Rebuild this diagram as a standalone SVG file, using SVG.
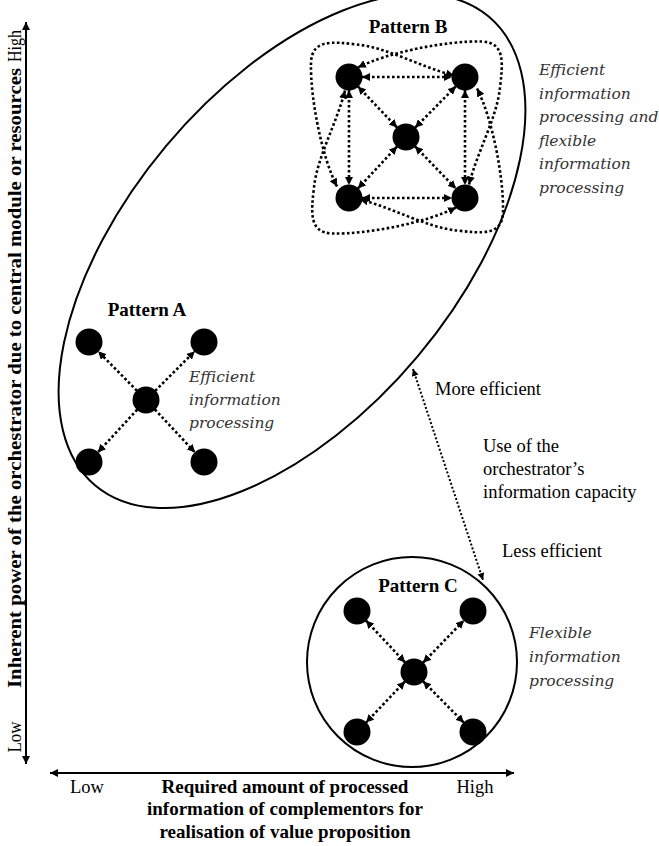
<svg xmlns="http://www.w3.org/2000/svg" width="659" height="846" viewBox="0 0 659 846">
  <style>
    .bg { fill: #fff; }
    .node { fill: #000; }
    .dot { fill: none; stroke: #000; stroke-width: 2.6; stroke-dasharray: 2.6 2.4; }
    .dot-thin { fill: none; stroke: #000; stroke-width: 2; stroke-dasharray: 2 2; }
    .solid { fill: none; stroke: #000; stroke-width: 2; }
    .axis { fill: none; stroke: #000; stroke-width: 2; }
    .title { font-family: "Liberation Serif", "Times New Roman", serif; font-weight: bold; font-size: 19px; fill: #000; }
    .reg { font-family: "Liberation Serif", "Times New Roman", serif; font-size: 18.5px; fill: #000; }
    .ital { font-family: "DejaVu Serif", "Liberation Serif", serif; font-style: italic; font-size: 15.5px; fill: #333; }
  </style>
  <defs>
    <marker id="ah" viewBox="0 0 10 10" refX="10" refY="5" markerWidth="8" markerHeight="8" markerUnits="userSpaceOnUse" orient="auto-start-reverse">
      <path d="M0,0 L10,5 L0,10 z" fill="#000"/>
    </marker>
    <marker id="ahs" viewBox="0 0 10 10" refX="10" refY="5" markerWidth="7" markerHeight="7" markerUnits="userSpaceOnUse" orient="auto-start-reverse">
      <path d="M0,0 L10,5 L0,10 z" fill="#000"/>
    </marker>
    <marker id="axh" viewBox="0 0 10 10" refX="10" refY="5" markerWidth="10" markerHeight="8" markerUnits="userSpaceOnUse" orient="auto-start-reverse">
      <path d="M0,0 L10,5 L0,10 z" fill="#000"/>
    </marker>
  </defs>

  <rect class="bg" x="0" y="0" width="659" height="846"/>

  <!-- axes -->
  <g id="axes">
    <line class="axis" x1="26" y1="764" x2="26" y2="22" marker-start="url(#axh)" marker-end="url(#axh)"/>
    <line class="axis" x1="50" y1="773" x2="514" y2="773" marker-start="url(#axh)" marker-end="url(#axh)"/>
    <text class="reg" transform="translate(21,46) rotate(-90)" text-anchor="middle" textLength="32" lengthAdjust="spacingAndGlyphs">High</text>
    <text class="reg" transform="translate(21,737) rotate(-90)" text-anchor="middle" textLength="31" lengthAdjust="spacingAndGlyphs">Low</text>
    <text class="title" transform="translate(21,378) rotate(-90)" text-anchor="middle" textLength="620" lengthAdjust="spacingAndGlyphs">Inherent power of the orchestrator due to central module or resources</text>
    <text class="reg" x="87" y="793" text-anchor="middle">Low</text>
    <text class="reg" x="475" y="793" text-anchor="middle">High</text>
    <text class="title" x="285" y="793" text-anchor="middle">Required amount of processed</text>
    <text class="title" x="285" y="815" text-anchor="middle">information of complementors for</text>
    <text class="title" x="285" y="838" text-anchor="middle">realisation of value proposition</text>
  </g>

  <!-- region enclosing patterns A and B -->
  <g id="region-ab">
    <ellipse class="solid" cx="0" cy="0" rx="306" ry="164" transform="translate(292,251) rotate(-50)"/>
  </g>

  <!-- region enclosing pattern C -->
  <g id="region-c">
    <circle class="solid" cx="412" cy="662" r="105"/>
  </g>

  <!-- connectors -->
  <g id="connectors">
    <!-- pattern B: straight links -->
    <line class="dot" x1="362" y1="77" x2="452" y2="77" marker-start="url(#ah)" marker-end="url(#ah)"/>
    <line class="dot" x1="362" y1="198" x2="452" y2="198" marker-start="url(#ah)" marker-end="url(#ah)"/>
    <line class="dot" x1="349" y1="90" x2="349" y2="185" marker-start="url(#ah)" marker-end="url(#ah)"/>
    <line class="dot" x1="465" y1="90" x2="465" y2="185" marker-start="url(#ah)" marker-end="url(#ah)"/>
    <line class="dot" x1="397.1" y1="127.6" x2="357.9" y2="86.4" marker-start="url(#ah)" marker-end="url(#ah)"/>
    <line class="dot" x1="415.1" y1="127.7" x2="455.9" y2="86.3" marker-start="url(#ah)" marker-end="url(#ah)"/>
    <line class="dot" x1="397.1" y1="146.5" x2="357.9" y2="188.5" marker-start="url(#ah)" marker-end="url(#ah)"/>
    <line class="dot" x1="415" y1="146.3" x2="456" y2="188.7" marker-start="url(#ah)" marker-end="url(#ah)"/>
    <!-- pattern B: outer curved links between opposite corners -->
    <path class="dot" d="M358,67.5 C387,52.5 447,40.5 482,41.5 C505,42.5 503,62.5 500,87.5 C497,117.5 477,152.5 469,184.5" marker-start="url(#ah)" marker-end="url(#ah)"/>
    <path class="dot" d="M477,88.5 C492,117.5 504,177.5 503,212.5 C502,235.5 482,233.5 457,230.5 C427,227.5 392,207.5 360,199.5" marker-start="url(#ah)" marker-end="url(#ah)"/>
    <path class="dot" d="M456,207.5 C427,222.5 367,234.5 332,233.5 C309,232.5 311,212.5 314,187.5 C317,157.5 337,122.5 345,90.5" marker-start="url(#ah)" marker-end="url(#ah)"/>
    <path class="dot" d="M337,186.5 C322,157.5 310,97.5 311,62.5 C312,39.5 332,41.5 357,44.5 C387,47.5 422,67.5 454,75.5" marker-start="url(#ah)" marker-end="url(#ah)"/>

    <!-- pattern A: hub to satellites -->
    <line class="dot" x1="136.9" y1="390.7" x2="98.1" y2="351.3" marker-end="url(#ah)"/>
    <line class="dot" x1="155.2" y1="390.8" x2="194.8" y2="351.2" marker-end="url(#ah)"/>
    <line class="dot" x1="137.2" y1="409.6" x2="97.8" y2="452.4" marker-end="url(#ah)"/>
    <line class="dot" x1="154.9" y1="409.5" x2="195.1" y2="452.5" marker-end="url(#ah)"/>

    <!-- pattern C: hub and satellites, both ways -->
    <line class="dot" x1="405.1" y1="662.5" x2="365.9" y2="620.5" marker-start="url(#ah)" marker-end="url(#ah)"/>
    <line class="dot" x1="423" y1="662.7" x2="464" y2="620.3" marker-start="url(#ah)" marker-end="url(#ah)"/>
    <line class="dot" x1="405" y1="681.4" x2="366" y2="722.6" marker-start="url(#ah)" marker-end="url(#ah)"/>
    <line class="dot" x1="423.1" y1="681.3" x2="463.9" y2="722.7" marker-start="url(#ah)" marker-end="url(#ah)"/>

    <!-- efficiency scale between the two regions -->
    <line class="dot-thin" x1="413" y1="369" x2="483" y2="580" marker-start="url(#ahs)" marker-end="url(#ahs)"/>
  </g>

  <!-- pattern B -->
  <g id="pattern-b">
    <text class="title" x="408" y="33" text-anchor="middle">Pattern B</text>
    <circle class="node" cx="349" cy="77" r="13.5"/>
    <circle class="node" cx="465" cy="77" r="13.5"/>
    <circle class="node" cx="406" cy="137" r="13.5"/>
    <circle class="node" cx="349" cy="198" r="13.5"/>
    <circle class="node" cx="465" cy="198" r="13.5"/>
    <text class="ital">
      <tspan x="539" y="75">Efficient</tspan>
      <tspan x="539" y="98.5">information</tspan>
      <tspan x="539" y="122">processing and</tspan>
      <tspan x="539" y="145.5">flexible</tspan>
      <tspan x="539" y="169">information</tspan>
      <tspan x="539" y="192.5">processing</tspan>
    </text>
  </g>

  <!-- pattern A -->
  <g id="pattern-a">
    <text class="title" x="147" y="316" text-anchor="middle">Pattern A</text>
    <circle class="node" cx="89" cy="342" r="13.5"/>
    <circle class="node" cx="204" cy="342" r="13.5"/>
    <circle class="node" cx="146" cy="400" r="13.5"/>
    <circle class="node" cx="89" cy="462" r="13.5"/>
    <circle class="node" cx="204" cy="462" r="13.5"/>
    <text class="ital">
      <tspan x="189" y="382">Efficient</tspan>
      <tspan x="189" y="405">information</tspan>
      <tspan x="189" y="428">processing</tspan>
    </text>
  </g>

  <!-- pattern C -->
  <g id="pattern-c">
    <text class="title" x="418" y="592" text-anchor="middle">Pattern C</text>
    <circle class="node" cx="357" cy="611" r="13.5"/>
    <circle class="node" cx="473" cy="611" r="13.5"/>
    <circle class="node" cx="414" cy="672" r="13.5"/>
    <circle class="node" cx="357" cy="732" r="13.5"/>
    <circle class="node" cx="473" cy="732" r="13.5"/>
    <text class="ital">
      <tspan x="529" y="638">Flexible</tspan>
      <tspan x="529" y="662">information</tspan>
      <tspan x="529" y="686">processing</tspan>
    </text>
  </g>

  <!-- scale labels -->
  <g id="scale-labels">
    <text class="reg" x="435" y="395">More efficient</text>
    <text class="reg" x="483" y="452">Use of the</text>
    <text class="reg" x="483" y="475">orchestrator’s</text>
    <text class="reg" x="483" y="498">information capacity</text>
    <text class="reg" x="502" y="557">Less efficient</text>
  </g>
</svg>
